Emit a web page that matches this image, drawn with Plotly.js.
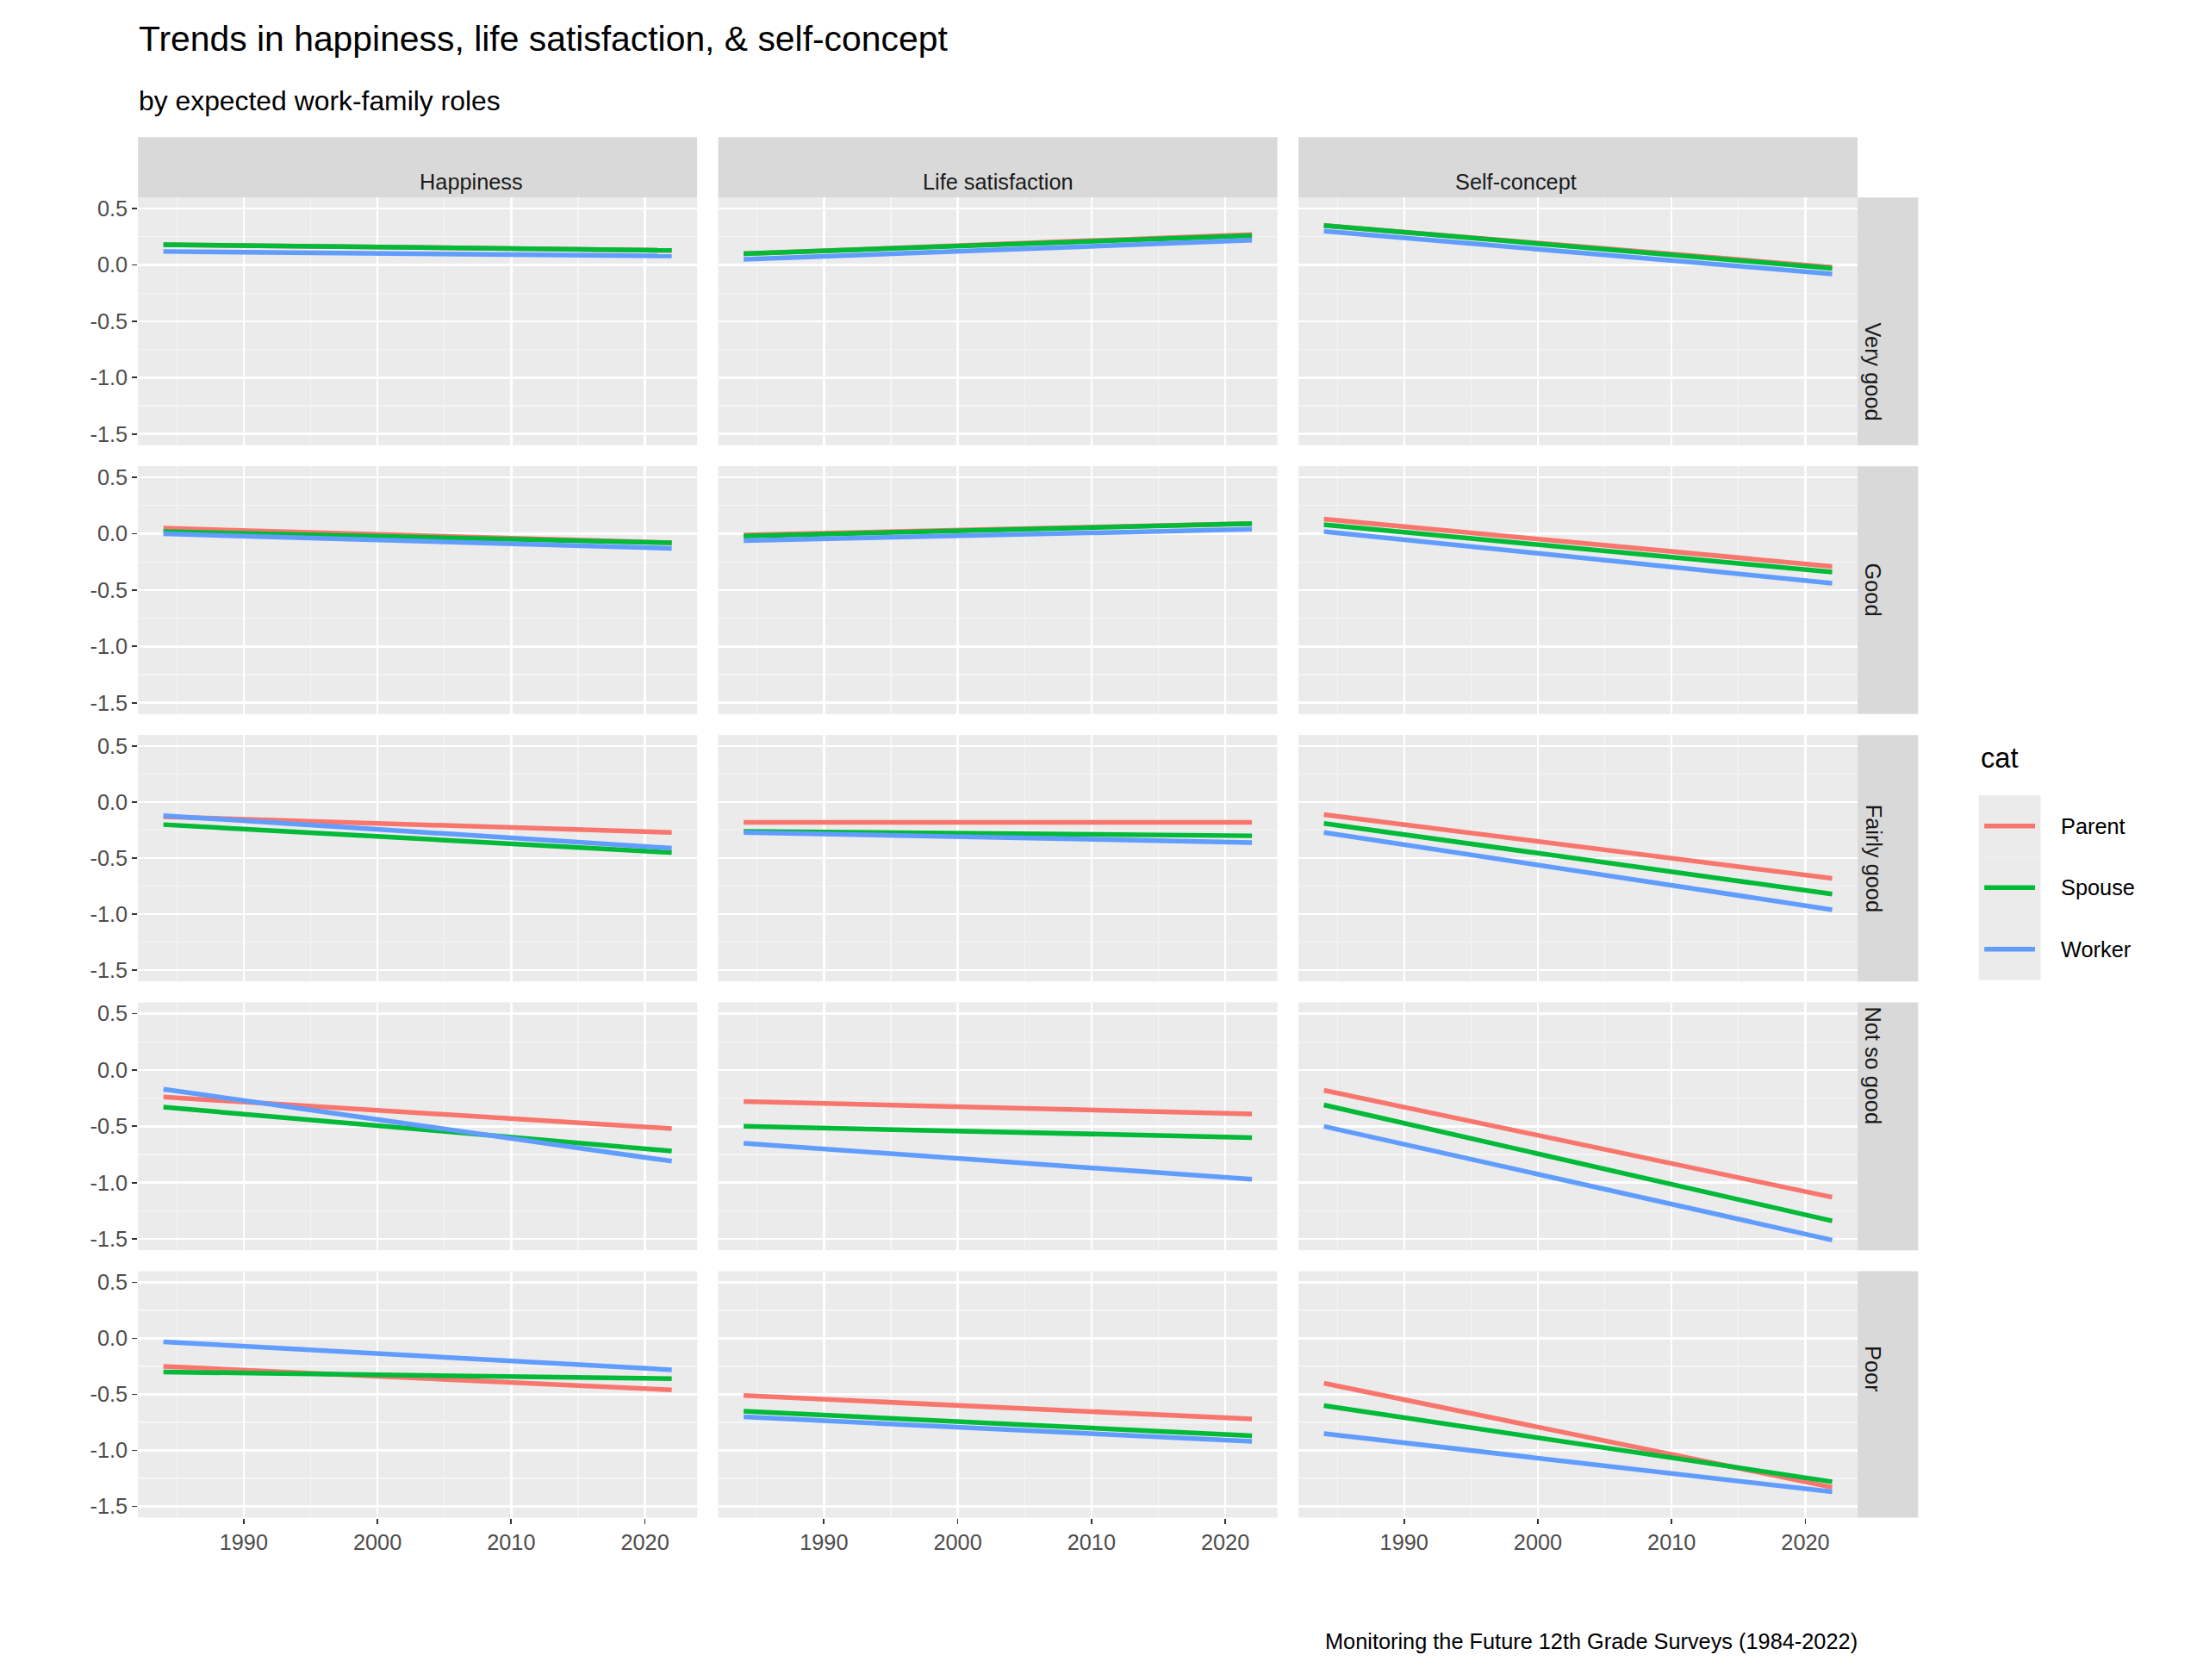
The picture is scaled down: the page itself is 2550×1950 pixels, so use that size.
<!DOCTYPE html>
<html>
<head>
<meta charset="utf-8">
<script src="https://cdn.plot.ly/plotly-3.0.1.min.js"></script>
<style>html,body{margin:0;padding:0;background:#fff}</style>
</head>
<body>
<div id="chart" style="width:2550px;height:1950px"></div>
<script>
// facets
const measures = ['Happiness', 'Life satisfaction', 'Self-concept'];
const ratings = ['Very good', 'Good', 'Fairly good', 'Not so good', 'Poor'];
const cats = ['Parent', 'Spouse', 'Worker'];
const years = [1984, 2022];

// fitted start/end values: [rating][cat] = [1984, 2022]
const happiness = [
  [[0.18, 0.13], [0.18, 0.13], [0.12, 0.08]],
  [[0.05, -0.08], [0.02, -0.08], [0.00, -0.13]],
  [[-0.13, -0.27], [-0.20, -0.45], [-0.12, -0.41]],
  [[-0.24, -0.52], [-0.33, -0.72], [-0.17, -0.81]],
  [[-0.25, -0.46], [-0.30, -0.36], [-0.03, -0.28]],
];
const lifeSat = [
  [[0.10, 0.27], [0.10, 0.26], [0.05, 0.22]],
  [[-0.01, 0.09], [-0.02, 0.09], [-0.06, 0.04]],
  [[-0.18, -0.18], [-0.26, -0.30], [-0.27, -0.36]],
  [[-0.28, -0.39], [-0.50, -0.60], [-0.65, -0.97]],
  [[-0.51, -0.72], [-0.65, -0.87], [-0.70, -0.92]],
];
const selfConcept = [
  [[0.35, -0.02], [0.35, -0.03], [0.30, -0.08]],
  [[0.13, -0.29], [0.08, -0.34], [0.02, -0.44]],
  [[-0.11, -0.68], [-0.19, -0.82], [-0.27, -0.96]],
  [[-0.18, -1.13], [-0.31, -1.34], [-0.50, -1.51]],
  [[-0.40, -1.33], [-0.60, -1.28], [-0.85, -1.37]],
];
const series = [happiness, lifeSat, selfConcept];
const colors = ['#F8766D', '#00BA38', '#619CFF'];

// geometry in reference pixel units (1560 x 1200)
const RW = 1560, RH = 1200;
const colX = [[98, 495], [510, 907], [922, 1319]];
const rowY = [[141, 318], [333, 510], [525, 701], [716, 893], [908, 1084]];
const fx = (p) => p / RW;
const fy = (p) => 1 - p / RH;
const S = 2550 / RW;

const font = 'Liberation Sans, Arial, sans-serif';
const traces = [];
const layout = {
  width: 2550, height: 1950,
  margin: { l: 0, r: 0, t: 0, b: 0 },
  paper_bgcolor: '#ffffff',
  plot_bgcolor: '#ebebeb',
  font: { family: font, color: '#000' },
  showlegend: false,
  shapes: [],
  annotations: [],
};

for (let r = 0; r < 5; r++) {
  for (let c = 0; c < 3; c++) {
    const n = r * 3 + c + 1;
    const sfx = n === 1 ? '' : String(n);
    const common = {
      showgrid: true, gridcolor: '#ffffff', gridwidth: 2.4,
      zeroline: false, showline: false,
      ticklen: 6, tickwidth: 1.8, tickcolor: '#333333',
      tickfont: { size: 15.5 * S, color: '#4d4d4d', family: font },
    };
    layout['xaxis' + sfx] = Object.assign({}, common, {
      domain: [fx(colX[c][0]), fx(colX[c][1])],
      anchor: 'y' + sfx,
      range: [1982.1, 2023.9], tickvals: [1990, 2000, 2010, 2020],
      showticklabels: r === 4, ticks: r === 4 ? 'outside' : '',
      minor: { tickvals: [1985, 1995, 2005, 2015], showgrid: true, gridcolor: '#f5f5f5', gridwidth: 1.2, ticks: '' },
    });
    layout['yaxis' + sfx] = Object.assign({}, common, {
      domain: [fy(rowY[r][1]), fy(rowY[r][0])],
      anchor: 'x' + sfx,
      range: [-1.6, 0.6], tickvals: [0.5, 0, -0.5, -1, -1.5],
      ticktext: ['0.5', '0.0', '-0.5', '-1.0', '-1.5'],
      showticklabels: c === 0, ticks: c === 0 ? 'outside' : '',
      minor: { tickvals: [0.25, -0.25, -0.75, -1.25], showgrid: true, gridcolor: '#f5f5f5', gridwidth: 1.2, ticks: '' },
    });
    for (let k = 0; k < 3; k++) {
      traces.push({
        x: years, y: series[c][r][k],
        xaxis: 'x' + sfx, yaxis: 'y' + sfx,
        mode: 'lines', name: cats[k],
        line: { color: colors[k], width: 5.5 },
        hoverinfo: 'skip',
      });
    }
  }
}

// top strips
colX.forEach((cx, c) => {
  layout.shapes.push({ type: 'rect', xref: 'paper', yref: 'paper', layer: 'below',
    x0: fx(cx[0]), x1: fx(cx[1]), y0: fy(141), y1: fy(98), fillcolor: '#d9d9d9', line: { width: 0 } });
  layout.annotations.push({ xref: 'paper', yref: 'paper', x: fx((cx[0] + cx[1]) / 2), y: fy(120),
    text: measures[c], showarrow: false, font: { size: 15.5 * S, color: '#1a1a1a' } });
});
// right strips
rowY.forEach((ry, r) => {
  layout.shapes.push({ type: 'rect', xref: 'paper', yref: 'paper', layer: 'below',
    x0: fx(1319), x1: fx(1362), y0: fy(ry[1]), y1: fy(ry[0]), fillcolor: '#d9d9d9', line: { width: 0 } });
  layout.annotations.push({ xref: 'paper', yref: 'paper', x: fx(1340), y: fy((ry[0] + ry[1]) / 2),
    text: ratings[r], textangle: 90, showarrow: false, font: { size: 15.5 * S, color: '#1a1a1a' } });
});

// legend drawn by hand (ggplot-style key boxes)
layout.annotations.push({ xref: 'paper', yref: 'paper', x: fx(1405), y: fy(541), xanchor: 'left',
  text: 'cat', showarrow: false, font: { size: 20 * S, color: '#000' } });
cats.forEach((name, k) => {
  const cy = 590 + k * 44;
  layout.shapes.push(
    { type: 'rect', xref: 'paper', yref: 'paper', layer: 'below',
      x0: fx(1405), x1: fx(1449), y0: fy(cy + 22), y1: fy(cy - 22), fillcolor: '#ebebeb', line: { width: 0 } },
    { type: 'line', xref: 'paper', yref: 'paper',
      x0: fx(1409), x1: fx(1445), y0: fy(cy), y1: fy(cy), line: { color: colors[k], width: 5.5 } }
  );
  layout.annotations.push({ xref: 'paper', yref: 'paper', x: fx(1462), y: fy(cy), xanchor: 'left',
    text: name, showarrow: false, font: { size: 15.5 * S, color: '#000' } });
});

// titles
layout.annotations.push(
  { xref: 'paper', yref: 'paper', x: fx(97), y: fy(28), xanchor: 'left', yanchor: 'middle',
    text: 'Trends in happiness, life satisfaction, & self-concept', showarrow: false,
    font: { size: 25 * S, color: '#000' } },
  { xref: 'paper', yref: 'paper', x: fx(97), y: fy(72), xanchor: 'left', yanchor: 'middle',
    text: 'by expected work-family roles', showarrow: false,
    font: { size: 19.5 * S, color: '#000' } },
  { xref: 'paper', yref: 'paper', x: fx(1320), y: fy(1172), xanchor: 'right', yanchor: 'middle',
    text: 'Monitoring the Future 12th Grade Surveys (1984-2022)', showarrow: false,
    font: { size: 15.5 * S, color: '#000' } }
);

Plotly.newPlot('chart', traces, layout, { displayModeBar: false, staticPlot: true });
</script>
</body>
</html>
